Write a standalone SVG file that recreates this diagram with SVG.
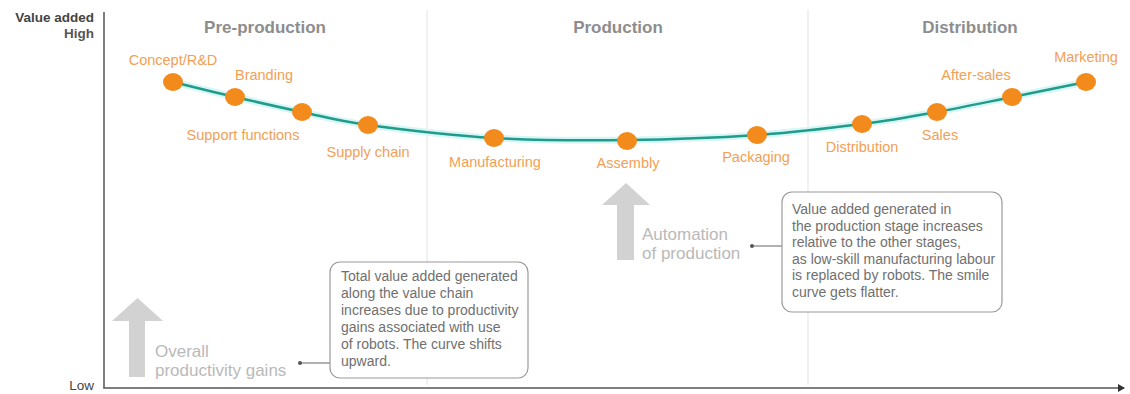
<svg xmlns="http://www.w3.org/2000/svg" width="1130" height="394" viewBox="0 0 1130 394">
  <style>
    .axis { stroke: #555; stroke-width: 1.5; fill: none; }
    .divider { stroke: #e3e3e3; stroke-width: 1; fill: none; }
    .stage { font-family: "Liberation Sans", Arial, sans-serif; font-weight: bold; font-size: 17px; fill: #8d8d8d; text-anchor: middle; }
    .axislbl { font-family: "Liberation Sans", Arial, sans-serif; font-weight: bold; font-size: 13.5px; fill: #444; text-anchor: end; }
    .dot { fill: #f28a1c; }
    .lbl { font-family: "Liberation Sans", Arial, sans-serif; font-size: 14.5px; fill: #f3a055; text-anchor: middle; }
    .curve { fill: none; stroke: #1f9c8a; stroke-width: 2.5; }
    .glow { fill: none; stroke: #d8f6f6; stroke-width: 7; }
    .bigarrow { fill: #d2d2d2; }
    .arrowlbl { font-family: "Liberation Sans", Arial, sans-serif; font-size: 17px; fill: #b9b9b9; }
    .box { fill: #fff; stroke: #9a9a9a; stroke-width: 1.2; }
    .boxtxt { font-family: "Liberation Sans", Arial, sans-serif; font-size: 14px; fill: #707070; }
    .lead { stroke: #666; stroke-width: 1; fill: none; }
  </style>
  <defs>
    <marker id="axisHead" markerWidth="8" markerHeight="8" refX="6" refY="4" orient="auto" markerUnits="userSpaceOnUse">
      <path d="M0,0 L7,4 L0,8 Z" fill="#333"/>
    </marker>
  </defs>

  <!-- stage dividers -->
  <line class="divider" x1="427" y1="10" x2="427" y2="385"/>
  <line class="divider" x1="808" y1="10" x2="808" y2="385"/>

  <!-- axes -->
  <g id="axes">
    <line class="axis" x1="104" y1="12" x2="104" y2="388"/>
    <line class="axis" x1="103.25" y1="388" x2="1124" y2="388" marker-end="url(#axisHead)"/>
    <text class="axislbl" x="94" y="22">Value added</text>
    <text class="axislbl" x="94" y="38" style="fill:#555">High</text>
    <text class="axislbl" x="94" y="390" style="font-weight:normal;fill:#444">Low</text>
  </g>

  <!-- stage titles -->
  <g id="stages">
    <text class="stage" x="265" y="33">Pre-production</text>
    <text class="stage" x="618" y="33">Production</text>
    <text class="stage" x="970" y="33">Distribution</text>
  </g>

  <!-- smile curve -->
  <g id="connectors">
    <path class="glow" d="M173,82 C183.3,84.5 213.5,92 235,97 C256.5,102 279.8,107.3 302,112 C324.2,116.7 336,120.7 368,125 C400,129.3 450.8,135.5 494,138 C537.2,140.5 583.2,140.5 627,140 C670.8,139.5 717.8,137.7 757,135 C796.2,132.3 832,127.8 862,124 C892,120.2 912,116.5 937,112 C962,107.5 987.2,102 1012,97 C1036.8,92 1073.7,84.5 1086,82"/>
    <path class="curve" d="M173,82 C183.3,84.5 213.5,92 235,97 C256.5,102 279.8,107.3 302,112 C324.2,116.7 336,120.7 368,125 C400,129.3 450.8,135.5 494,138 C537.2,140.5 583.2,140.5 627,140 C670.8,139.5 717.8,137.7 757,135 C796.2,132.3 832,127.8 862,124 C892,120.2 912,116.5 937,112 C962,107.5 987.2,102 1012,97 C1036.8,92 1073.7,84.5 1086,82"/>
    <!-- callout leaders -->
    <line class="lead" x1="300" y1="363" x2="330" y2="363"/>
    <circle cx="300" cy="363" r="2" fill="#555"/>
    <line class="lead" x1="752" y1="246" x2="782" y2="246"/>
    <circle cx="752" cy="246" r="2" fill="#555"/>
  </g>

  <!-- value-chain activities -->
  <g id="concept"><ellipse class="dot" cx="173" cy="82" rx="10" ry="9"/><text class="lbl" x="173" y="65">Concept/R&amp;D</text></g>
  <g id="branding"><ellipse class="dot" cx="235" cy="97" rx="10" ry="9"/><text class="lbl" x="264" y="80">Branding</text></g>
  <g id="support"><ellipse class="dot" cx="302" cy="112" rx="10" ry="9"/><text class="lbl" x="243" y="140">Support functions</text></g>
  <g id="supply"><ellipse class="dot" cx="368" cy="125" rx="10" ry="9"/><text class="lbl" x="368" y="157">Supply chain</text></g>
  <g id="manufacturing"><ellipse class="dot" cx="494" cy="138" rx="10" ry="9"/><text class="lbl" x="495" y="167">Manufacturing</text></g>
  <g id="assembly"><ellipse class="dot" cx="627" cy="141" rx="10" ry="9"/><text class="lbl" x="628" y="168">Assembly</text></g>
  <g id="packaging"><ellipse class="dot" cx="757" cy="135" rx="10" ry="9"/><text class="lbl" x="756" y="162">Packaging</text></g>
  <g id="distribution"><ellipse class="dot" cx="862" cy="124" rx="10" ry="9"/><text class="lbl" x="862" y="152">Distribution</text></g>
  <g id="sales"><ellipse class="dot" cx="937" cy="112" rx="10" ry="9"/><text class="lbl" x="940" y="140">Sales</text></g>
  <g id="aftersales"><ellipse class="dot" cx="1012" cy="97" rx="10" ry="9"/><text class="lbl" x="976" y="80">After-sales</text></g>
  <g id="marketing"><ellipse class="dot" cx="1086" cy="82" rx="10" ry="9"/><text class="lbl" x="1086" y="62">Marketing</text></g>

  <!-- productivity gains -->
  <g id="productivity">
    <path class="bigarrow" d="M137.5,298 L163,321 L145,321 L145,377 L129,377 L129,321 L112,321 Z"/>
    <text class="arrowlbl" x="155" y="357">Overall</text>
    <text class="arrowlbl" x="155" y="376">productivity gains</text>
  </g>

  <!-- automation of production -->
  <g id="automation">
    <path class="bigarrow" d="M626,183 L650,205 L634,205 L634,260 L617,260 L617,205 L602,205 Z"/>
    <text class="arrowlbl" x="642" y="240">Automation</text>
    <text class="arrowlbl" x="642" y="259">of production</text>
  </g>

  <!-- callout: total value added -->
  <g id="note-total">
    <rect class="box" x="330" y="262" width="198" height="116" rx="10"/>
    <text class="boxtxt">
      <tspan x="341" y="281">Total value added generated</tspan>
      <tspan x="341" y="298">along the value chain</tspan>
      <tspan x="341" y="315">increases due to productivity</tspan>
      <tspan x="341" y="332">gains associated with use</tspan>
      <tspan x="341" y="349">of robots. The curve shifts</tspan>
      <tspan x="341" y="366">upward.</tspan>
    </text>
  </g>

  <!-- callout: production stage -->
  <g id="note-production">
    <rect class="box" x="782" y="192" width="220" height="120" rx="10"/>
    <text class="boxtxt">
      <tspan x="792" y="214">Value added generated in</tspan>
      <tspan x="792" y="230.5">the production stage increases</tspan>
      <tspan x="792" y="247">relative to the other stages,</tspan>
      <tspan x="792" y="263.5">as low-skill manufacturing labour</tspan>
      <tspan x="792" y="280">is replaced by robots. The smile</tspan>
      <tspan x="792" y="296.5">curve gets flatter.</tspan>
    </text>
  </g>
</svg>
